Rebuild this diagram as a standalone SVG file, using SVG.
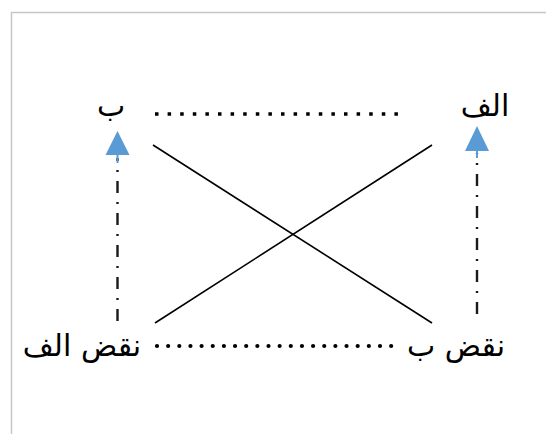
<svg xmlns="http://www.w3.org/2000/svg" width="546" height="434" viewBox="0 0 546 434">
<style>
.lbl{font-family:"DejaVu Sans","Noto Sans",sans-serif;font-size:30px;fill:#000;text-anchor:middle}
.cross{stroke:#000;stroke-width:1.6;fill:none}
.dash{stroke:#1a1a1a;stroke-width:2.4;fill:none;stroke-dasharray:12 9 2 9}
.arrowhead{fill:#5b9bd5}
</style>
<rect x="0" y="0" width="546" height="434" fill="#fff"/>
<path d="M11.5 434 V12.5 H546" fill="none" stroke="#c6c6c6" stroke-width="1.5"/>
<g id="connectors">
<line x1="155" y1="114" x2="404" y2="114" stroke="#000" stroke-width="3.5" stroke-dasharray="3.5 9.1"/>
<line x1="157" y1="346" x2="392" y2="346" stroke="#000" stroke-width="4.2" stroke-linecap="round" stroke-dasharray="0 11.15"/>
<line class="cross" x1="153" y1="145" x2="432" y2="323"/>
<line class="cross" x1="155" y1="323" x2="432" y2="145"/>
<line class="dash" x1="117.5" y1="321" x2="117.5" y2="158"/>
<line x1="117.5" y1="154" x2="117.5" y2="163" stroke="#5b9bd5" stroke-width="2"/>
<polygon class="arrowhead" points="117.5,131 129.5,155 105.5,155"/>
<line class="dash" x1="477" y1="314" x2="477" y2="153"/>
<line x1="477" y1="150" x2="477" y2="158" stroke="#5b9bd5" stroke-width="2"/>
<polygon class="arrowhead" points="477,126 489,151 465,151"/>
</g>
<g id="node-b"><text class="lbl" x="111" y="116">ب</text></g>
<g id="node-alef"><text class="lbl" x="485" y="116">الف</text></g>
<g id="node-not-alef"><text class="lbl" x="82" y="356">نقض الف</text></g>
<g id="node-not-b"><text class="lbl" x="456" y="356">نقض ب</text></g>
</svg>
